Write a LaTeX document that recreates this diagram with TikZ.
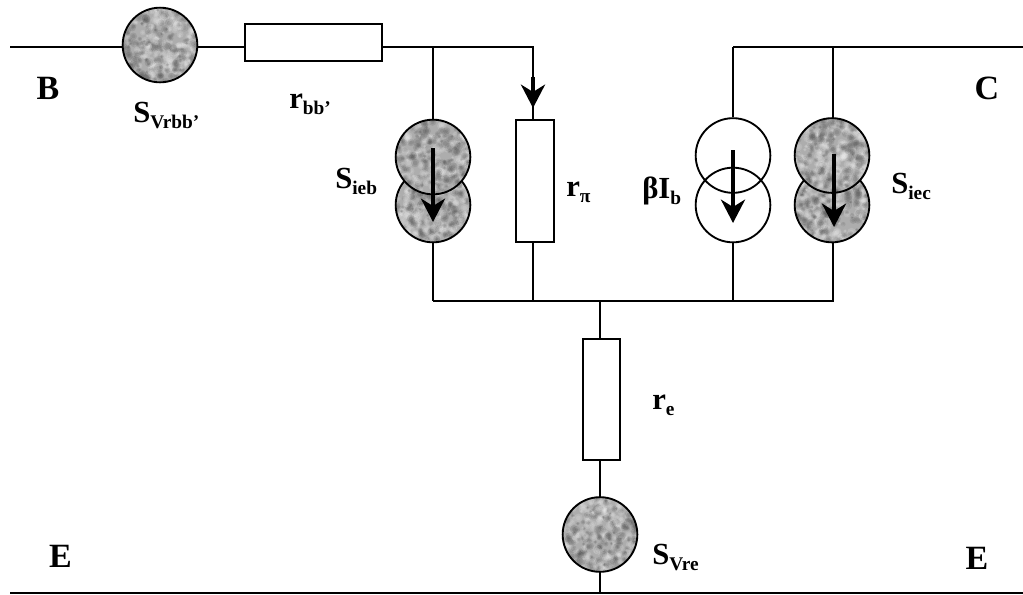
\documentclass[tikz,border=0pt]{standalone}
\usepackage{fontspec}
\setmainfont{Liberation Serif}
\usetikzlibrary{arrows.meta}
\pgfmathsetseed{4711}
\definecolor{noiseA}{gray}{0.30}
\definecolor{noiseB}{gray}{0.95}
\definecolor{noiseBase}{gray}{0.68}
\newcommand{\speckle}{%
  \foreach \i in {1,...,420}{%
    \pgfmathsetmacro{\px}{rnd*80-40}%
    \pgfmathsetmacro{\py}{rnd*80-40}%
    \pgfmathsetmacro{\pr}{1.6+rnd*3.0}%
    \pgfmathsetmacro{\pm}{rnd*100}%
    \pgfmathparse{\pm<50?"noiseA":"noiseB"}%
    \edef\pc{\pgfmathresult}%
    \fill[\pc,opacity=0.17] (path picture bounding box.center) ++(\px,\py) circle[radius=\pr];
    \fill[\pc,opacity=0.17] (path picture bounding box.center) ++(\px,\py) circle[radius=0.55*\pr];
  }%
}
\tikzset{
  x=0.75pt,y=-0.75pt,
  wire/.style={line width=1.5pt,draw=black},
  res/.style={draw=black,line width=1.5pt,fill=white,rectangle,inner sep=0pt},
  noisy/.style={circle,draw=black,line width=1.4pt,fill=noiseBase,inner sep=0pt,minimum size=56pt,path picture={\speckle}},
  plain/.style={circle,draw=black,line width=1.4pt,inner sep=0pt,minimum size=56pt},
  bigarrow/.style={line width=3.6pt,-{Stealth[length=17.5pt,width=18pt,inset=5.5pt]}},
  lbl/.style={font=\bfseries\fontsize{25.5}{27}\selectfont,inner sep=0pt},
  sublbl/.style={font=\bfseries\fontsize{23}{26}\selectfont,inner sep=0pt},
}
\newcommand{\sbs}[1]{\raisebox{-5pt}{\fontsize{14.5}{15}\selectfont #1}}
\begin{document}
\begin{tikzpicture}
\useasboundingbox (0,0) rectangle (1023,594);
% coordinates
\coordinate (bL) at (10,47);
\coordinate (tA) at (433,47);
\coordinate (tR) at (533,47);
\coordinate (tB) at (733,47);
\coordinate (tC) at (833,47);
\coordinate (cR) at (1023,47);
\coordinate (rA) at (433,301);
\coordinate (rR) at (533,301);
\coordinate (rM) at (600,301);
\coordinate (rB) at (733,301);
\coordinate (rC) at (833,301);
\coordinate (eL) at (10,593);
\coordinate (eM) at (600,593);
\coordinate (eR) at (1023,593);
\coordinate (arrS) at (533,77);
\coordinate (arrE) at (533,108);
% wires (behind components)
\draw[wire] (bL) -- (tA) -- (tR) -- (rR);
\draw[wire] (tA) -- (rA);
\draw[wire] (rA) -- (rC) -- (tC);
\draw[wire] (tB) -- (tC) -- (cR);
\draw[wire] (rM) -- (eM);
\draw[wire] (eL) -- (eR);
% components
\node[noisy] (svrbb) at (160,45) {};
\node[res,minimum width=103pt,minimum height=27.5pt] (rbb) at (313.5,42.5) {};
\node[noisy] (ieb2) at (433,205) {};
\node[noisy] (ieb1) at (433,157) {};
\node[res,minimum width=28.5pt,minimum height=91.5pt] (rpi) at (535,181) {};
\node[plain] (bi2) at (733,205) {};
\node[plain] (bi1) at (733,155.5) {};
\node[noisy] (iec2) at (832,205) {};
\node[noisy] (iec1) at (832,155.5) {};
\node[res,minimum width=28pt,minimum height=91pt] (re) at (601.5,399.5) {};
\node[noisy] (svre) at (600,534.5) {};
% wires of the open circles stop at their outlines
\draw[wire] (tB) -- (bi1.north);
\draw[wire] (bi2.south) -- (rB);
% current arrows
\coordinate (a1s) at (433,148); \coordinate (a1e) at (433,222);
\coordinate (a2s) at (733,150); \coordinate (a2e) at (733,223);
\coordinate (a3s) at (834,154); \coordinate (a3e) at (834,227);
\draw[bigarrow] (a1s) -- (a1e);
\draw[bigarrow] (a2s) -- (a2e);
\draw[bigarrow] (a3s) -- (a3e);
\draw[bigarrow] (arrS) -- (arrE);
% labels
\node[lbl] (lB) at (48,88.5) {B};
\node[lbl] (lC) at (987,88) {C};
\node[lbl] (lE1) at (60.5,556) {E};
\node[lbl] (lE2) at (977,558) {E};
\node[sublbl,anchor=base west] (l1) at (133,122) {S\sbs{Vrbb’}};
\node[sublbl,anchor=base west] (l2) at (289,108) {r\sbs{bb’}};
\node[sublbl,anchor=base west] (l3) at (335,188) {S\sbs{ieb}};
\node[sublbl,anchor=base west] (l4) at (566,196) {r\sbs{π}};
\node[sublbl,anchor=base west] (l5) at (642,198) {βI\sbs{b}};
\node[sublbl,anchor=base west] (l6) at (891,193) {S\sbs{iec}};
\node[sublbl,anchor=base west] (l7) at (652,409) {r\sbs{e}};
\node[sublbl,anchor=base west] (l8) at (652,564) {S\sbs{Vre}};
\end{tikzpicture}
\end{document}
